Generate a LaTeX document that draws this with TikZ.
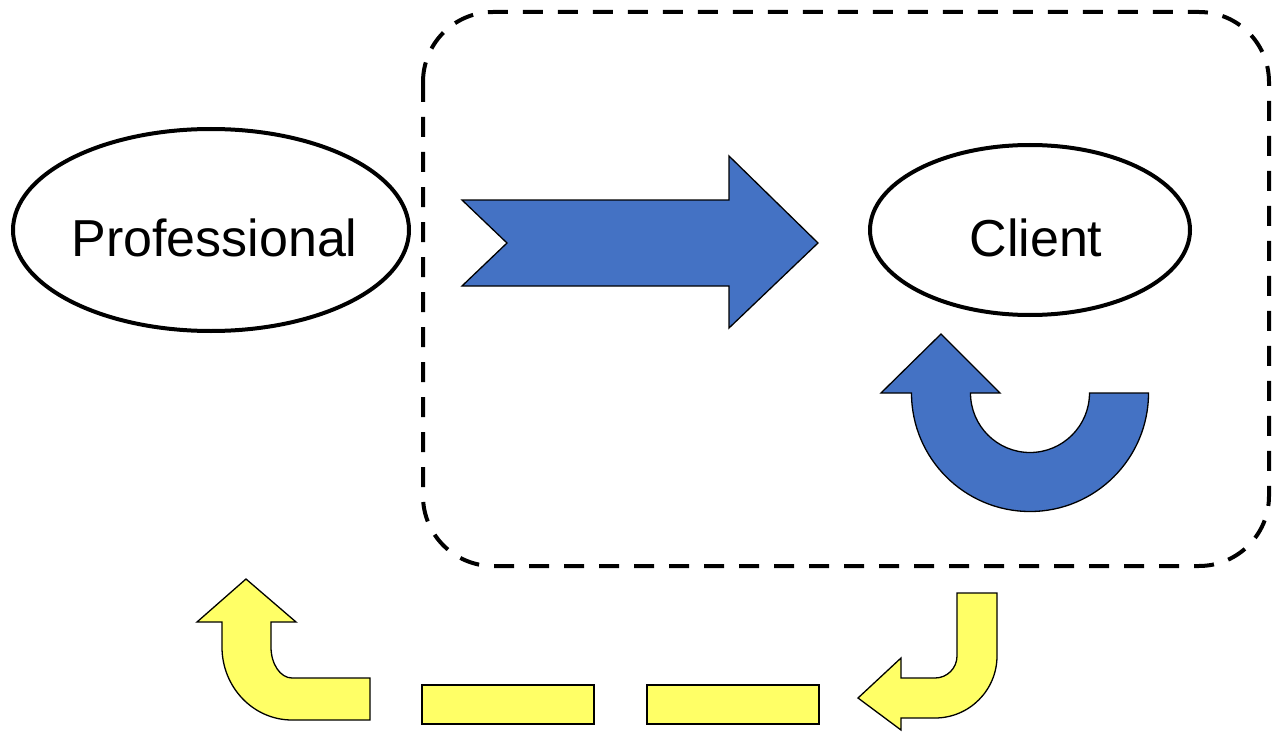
\documentclass[tikz,border=0pt]{standalone}
\usepackage{fontspec}
\setmainfont{Liberation Sans}
\usetikzlibrary{shapes.geometric}
\definecolor{blueA}{HTML}{4472C4}
\definecolor{yellowA}{HTML}{FFFF66}
\tikzset{
  oval/.style={draw=black, line width=4pt, ellipse, inner sep=0pt},
  lbl/.style={font=\fontsize{52}{60}\selectfont, anchor=base, inner sep=0pt},
  bluearrow/.style={fill=blueA, draw=black, line width=1.3pt, line join=miter},
  yellowarrow/.style={fill=yellowA, draw=black, line width=1.3pt, line join=miter},
  dashbox/.style={draw=black, line width=4pt, dash pattern=on 20pt off 15pt, rounded corners=70pt}
}
\begin{document}
\begin{tikzpicture}[x=1pt,y=-1pt]
\useasboundingbox (0,0) rectangle (1272,741);
% dashed rounded box
\draw[dashbox] (423,12) rectangle (1269,566);
% ellipses
\node[oval, minimum width=396pt, minimum height=202pt] (prof) at (211,230) {};
\node[lbl] (proftext) at (214.5,256) {Professional};
\node[oval, minimum width=320pt, minimum height=170pt] (client) at (1030,230) {};
\node[lbl] (clienttext) at (1036,256) {Client};
% blue notched right arrow
\draw[bluearrow] (462,200) -- (729,200) -- (729,156) -- (818,243) -- (729,328) -- (729,286) -- (462,286) -- (507,243) -- cycle;
% blue U-turn arrow
\draw[bluearrow] (1089.5,393) -- (1148.5,393) arc[start angle=0, end angle=180, radius=118.5]
  -- (881,393) -- (941,334) -- (1000,393) -- (970.5,393)
  arc[start angle=180, end angle=0, radius=59.5] -- cycle;
% yellow bent arrow (right, pointing left)
\draw[yellowarrow] (957,593) -- (997,593) -- (997,656) arc[start angle=0, end angle=90, radius=62]
  -- (901,718) -- (901,730) -- (858,698) -- (901,658) -- (901,678) -- (935,678)
  arc[start angle=90, end angle=0, radius=22] -- cycle;
% yellow dashes
\draw[yellowarrow] (647,685) rectangle (819,724);
\draw[yellowarrow] (422,685) rectangle (594,724);
% yellow bent arrow (left, pointing up)
\draw[yellowarrow] (370,678) -- (370,720) -- (292,720)
  arc[start angle=90, end angle=180, x radius=70, y radius=73]
  -- (222,622) -- (197,622) -- (246,579) -- (296,622) -- (271,622) -- (271,647)
  arc[start angle=180, end angle=90, x radius=21, y radius=31] -- cycle;
\end{tikzpicture}
\end{document}
